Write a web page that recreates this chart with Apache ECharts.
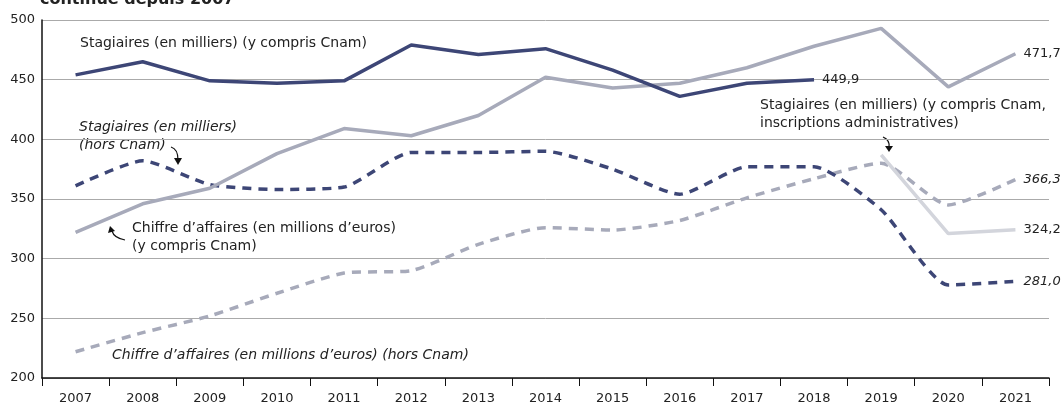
<html>
<head>
<meta charset="UTF-8">
<script src="https://cdn.jsdelivr.net/npm/echarts@6/dist/echarts.min.js"></script>
<title>Formation continue</title>
</head>
<body style="margin:0">
<div id="main" style="width:1064px;height:407px"></div>
<script type="text/javascript">
	// annees
	var years = ['2007', '2008', '2009', '2010', '2011', '2012', '2013', '2014', '2015', '2016', '2017', '2018', '2019', '2020', '2021'];
	// stagiaires (en milliers) y compris Cnam
	var stagCnam = [454, 465, 449, 447, 449, 479, 471, 476, 458, 436, 447, 449.9, null, null, null];
	// stagiaires hors Cnam
	var stagHors = [361, 382, 362, 358, 360, 389, 389, 390, 375, 354, 377, 377, 341, 278, 281.0];
	// chiffre d'affaires y compris Cnam
	var caCnam = [322, 346, 359, 388, 409, 403, 420, 452, 443, 447, 460, 478, 493, 444, 471.7];
	// chiffre d'affaires hors Cnam
	var caHors = [222, 238, 252, 271, 288, 290, 312, 326, 324, 332, 351, 367, 380, 345, 366.3];
	// stagiaires y compris Cnam, inscriptions administratives
	var stagAdmin = [null, null, null, null, null, null, null, null, null, null, null, null, 387, 321, 324.2];
	var yTicks = [200, 250, 300, 350, 400, 450, 500];

	var navy = '#3d4676';
	var grey = '#a7aaba';
	var light = '#d3d5dc';
	var font = 'DejaVu Sans';

	function endLabel(italic) {
		return {
			show : true,
			distance : 8,
			fontFamily : font,
			fontSize : 13,
			fontStyle : italic ? 'italic' : 'normal',
			color : '#222',
			formatter : function(p) {
				return p.value.toFixed(1).replace('.', ',');
			}
		};
	}

	function txt(x, y, s, italic, size, weight) {
		return {
			type : 'text',
			x : x,
			y : y,
			silent : true,
			style : {
				text : s,
				fill : '#222',
				fontFamily : font,
				fontSize : size || 14,
				fontStyle : italic ? 'italic' : 'normal',
				fontWeight : weight || 'normal'
			}
		};
	}

	function arrow(c, tip) {
		return [ {
			type : 'bezierCurve',
			silent : true,
			shape : c,
			style : { stroke : '#111', fill : null, lineWidth : 1.2 }
		}, {
			type : 'polygon',
			silent : true,
			shape : { points : tip },
			style : { fill : '#111' }
		} ];
	}

	var myChart = echarts.init(document.getElementById('main'));
	var option = {
		animation : false,
		grid : { left : 42, right : 15, top : 20, bottom : 29 },
		xAxis : {
			type : 'category',
			data : years,
			boundaryGap : true,
			axisLine : { lineStyle : { color : '#111', width : 1.5 } },
			axisTick : { show : true, length : 8, lineStyle : { color : '#111' } },
			axisLabel : { fontFamily : font, fontSize : 13, color : '#222', margin : 14 }
		},
		yAxis : {
			type : 'value',
			min : yTicks[0],
			max : yTicks[yTicks.length - 1],
			interval : 50,
			axisLine : { show : true, lineStyle : { color : '#111', width : 1.5 } },
			axisTick : { show : false },
			axisLabel : { fontFamily : font, fontSize : 13, color : '#222', margin : 7 },
			splitLine : { lineStyle : { color : '#aaaaaa', width : 1 } }
		},
		series : [ {
			name : 'CA hors Cnam',
			type : 'line',
			data : caHors,
			smooth : 0.2,
			symbol : 'none',
			lineStyle : { color : grey, width : 3.5, type : [ 9, 7 ] },
			endLabel : endLabel(true)
		}, {
			name : 'Stagiaires hors Cnam',
			type : 'line',
			data : stagHors,
			smooth : 0.2,
			symbol : 'none',
			lineStyle : { color : navy, width : 3.5, type : [ 9, 7 ] },
			endLabel : endLabel(true)
		}, {
			name : 'CA y compris Cnam',
			type : 'line',
			data : caCnam,
			symbol : 'none',
			lineStyle : { color : grey, width : 3.5 },
			endLabel : endLabel(false)
		}, {
			name : 'Stagiaires inscriptions administratives',
			type : 'line',
			data : stagAdmin,
			symbol : 'none',
			lineStyle : { color : light, width : 3.5 },
			endLabel : endLabel(false)
		}, {
			name : 'Stagiaires y compris Cnam',
			type : 'line',
			data : stagCnam,
			symbol : 'none',
			lineStyle : { color : navy, width : 3.5 },
			endLabel : endLabel(false)
		} ],
		graphic : [
			txt(40, -8, 'continue depuis 2007', false, 16, 'bold'),
			txt(80, 36, 'Stagiaires (en milliers) (y compris Cnam)'),
			txt(79, 120, 'Stagiaires (en milliers)', true),
			txt(79, 138, '(hors Cnam)', true),
			txt(132, 221, 'Chiffre d’affaires (en millions d’euros)'),
			txt(132, 239, '(y compris Cnam)'),
			txt(112, 348, 'Chiffre d’affaires (en millions d’euros) (hors Cnam)', true),
			txt(760, 98, 'Stagiaires (en milliers) (y compris Cnam,'),
			txt(760, 116, 'inscriptions administratives)')
		].concat(arrow({ x1 : 171, y1 : 147, cpx1 : 178, cpy1 : 149, x2 : 178, y2 : 160 }, [ [ 174, 158 ], [ 182, 158 ], [ 178, 165 ] ]))
		 .concat(arrow({ x1 : 125, y1 : 240, cpx1 : 114, cpy1 : 238, x2 : 112, y2 : 231 }, [ [ 108, 233 ], [ 115, 231 ], [ 110, 226 ] ]))
		 .concat(arrow({ x1 : 883, y1 : 137, cpx1 : 890, cpy1 : 140, x2 : 889, y2 : 147 }, [ [ 885, 146 ], [ 893, 146 ], [ 889, 152 ] ]))
	};
	myChart.setOption(option);
</script>
</body>
</html>
